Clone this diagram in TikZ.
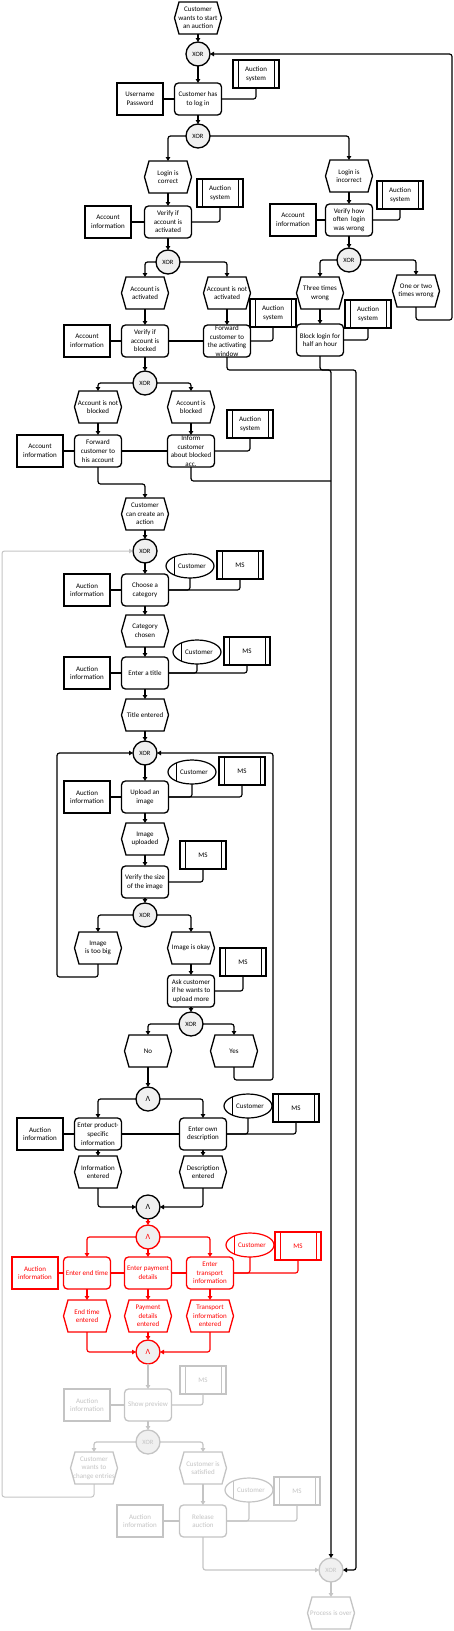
\documentclass[tikz,border=0pt]{standalone}
\usepackage{fontspec}
\setmainfont{Carlito}
\usetikzlibrary{arrows.meta,shapes.geometric}
\definecolor{rd}{HTML}{FF0000}
\definecolor{gr}{HTML}{C4C4C4}
\definecolor{xfill}{HTML}{F0F0F0}
\tikzset{
 base/.style={inner sep=0pt, outer sep=0pt, line width=1.3pt, fill=white},
 fnb/.style={base, rectangle, rounded corners=4pt, minimum width=47pt, minimum height=32pt},
 evb/.style={rectangle, inner sep=0pt, outer sep=0pt, minimum width=47pt, minimum height=32pt},
 dtb/.style={base, line width=1.1pt, rectangle, minimum width=46pt, minimum height=32pt},
 syb/.style={base, line width=1.1pt, rectangle, minimum width=46pt, minimum height=28pt},
 oub/.style={base, line width=1.2pt, ellipse, minimum width=48pt, minimum height=24pt},
 xob/.style={base, circle, minimum size=24pt, fill=xfill},
 txt/.style={inner sep=0pt, align=center, font=\fontsize{7}{8.6}\selectfont},
 ln/.style={line width=1.2pt, rounded corners=2.5pt},
 arr/.style={ln, -{Triangle[length=4pt,width=4.5pt]}},
}
\newcommand\myfn[4][black]{\node[fnb,draw=#1] (#2) at (#3) {};\node[txt,text=#1] at (#2.center) {#4};}
\newcommand\myev[4][black]{\node[evb] (#2) at (#3) {};
 \draw[line width=1.3pt,draw=#1,fill=white] (#2.west) -- ([xshift=4.5pt]#2.north west) -- ([xshift=-4.5pt]#2.north east) -- (#2.east) -- ([xshift=-4.5pt]#2.south east) -- ([xshift=4.5pt]#2.south west) -- cycle;
 \node[txt,text=#1] at (#2.center) {#4};}
\newcommand\mydt[4][black]{\node[dtb,draw=#1] (#2) at (#3) {};\node[txt,text=#1] at (#2.center) {#4};}
\newcommand\mysy[4][black]{\node[syb,draw=#1,path picture={\draw[draw=#1,line width=1pt] ([xshift=5pt]path picture bounding box.north west) -- ([xshift=5pt]path picture bounding box.south west) ([xshift=-5pt]path picture bounding box.north east) -- ([xshift=-5pt]path picture bounding box.south east);}] (#2) at (#3) {};\node[txt,text=#1] at (#2.center) {#4};}
\newcommand\myou[4][black]{\node[oub,draw=#1,path picture={\draw[draw=#1,line width=1pt] ([xshift=8pt]path picture bounding box.north west) -- ([xshift=8pt]path picture bounding box.south west);}] (#2) at (#3) {};\node[txt,text=#1] at ([xshift=2pt]#2.center) {#4};}
\newcommand\myxo[4][black]{\node[xob,draw=#1] (#2) at (#3) {};\node[txt,text=#1,font=\fontsize{6.5}{7}\selectfont] at (#2.center) {#4};}
\begin{document}
\begin{tikzpicture}[x=1pt,y=-1pt]
\useasboundingbox (0,0) rectangle (454,1631);
% ---------- black part
\myev{s1}{198,18}{Customer\\wants to start\\an auction}
\myxo{x1}{198,54}{XOR}
\myfn{f1}{198,99}{Customer has\\to log in}
\mydt{d1}{140,99}{Username\\Password}
\mysy{a1}{256,74}{Auction\\system}
\myxo{x2}{198,136}{XOR}
\myev{e1}{168,177}{Login is\\correct}
\myev{e2}{349,176}{Login is\\incorrect}
\myfn{f2}{168,222}{Verify if\\account is\\activated}
\mydt{d2}{108,222}{Account\\information}
\mysy{a2}{220,193}{Auction\\system}
\myfn{f3}{349,220}{Verify how\\often~ login\\was wrong}
\mydt{d3}{293,220}{Account\\information}
\mysy{a3}{400,195}{Auction\\system}
\myxo{x3}{168,262}{XOR}
\myxo{x4}{349,260}{XOR}
\myev{e3}{145,293}{Account is\\activated}
\myev{e4}{227,293}{Account is not\\activated}
\myev{e5}{320,293}{Three times\\wrong}
\myev{e6}{416,291}{One or two\\times wrong}
\myfn{f4}{145,341}{Verify if\\account is\\blocked}
\mydt{d4}{87,341}{Account\\information}
\myfn{f5}{227,341}{Forward\\customer to\\the activating\\window}
\mysy{a4}{273,313}{Auction\\system}
\myfn{f6}{320,340}{Block login for\\half an hour}
\mysy{a5}{368,314}{Auction\\system}
\myxo{x5}{145,383}{XOR}
\myev{e7}{98,407}{Account is not\\blocked}
\myev{e8}{191,407}{Account is\\blocked}
\myfn{f7}{98,451}{Forward\\customer to\\his account}
\myfn{f8}{191,451}{Inform\\customer\\about blocked\\acc.}
\mydt{d5}{40,451}{Account\\information}
\mysy{a6}{250,424}{Auction\\system}
\myev{e9}{145,514}{Customer\\can create an\\action}
\myxo{x6}{145,551}{XOR}
\myfn{f9}{145,590}{Choose a\\category}
\mydt{d6}{87,590}{Auction\\information}
\myou{o1}{190,566}{Customer}
\mysy{m1}{240,565}{MS}
\myev{e10}{145,631}{Category\\chosen}
\myfn{f10}{145,673}{Enter a title}
\mydt{d7}{87,673}{Auction\\information}
\myou{o2}{197,652}{Customer}
\mysy{m2}{247,651}{MS}
\myev{e11}{145,715}{Title entered}
\myxo{x7}{145,753}{XOR}
\myfn{f11}{145,797}{Upload an\\image}
\mydt{d8}{87,797}{Auction\\information}
\myou{o3}{192,772}{Customer}
\mysy{m3}{242,771}{MS}
\myev{e12}{145,839}{Image\\uploaded}
\mysy{m4}{203,855}{MS}
\myfn{f12}{145,882}{Verify the size\\of the image}
\myxo{x8}{145,915}{XOR}
\myev{e13}{98,948}{Image\\is too big}
\myev{e14}{191,948}{Image is okay}
\mysy{m5}{243,962}{MS}
\myfn{f13}{191,991}{Ask customer\\if he wants to\\upload more}
\myxo{x9}{191,1024}{XOR}
\myev{e15}{148,1051}{No}
\myev{e16}{234,1051}{Yes}
\myxo{x10}{148,1099}{\fontsize{8}{8}\selectfont Λ}
\myfn{f14}{98,1134}{Enter product-\\specific\\information}
\myfn{f15}{203,1134}{Enter own\\description}
\mydt{d9}{40,1134}{Auction\\information}
\myou{o4}{248,1106}{Customer}
\mysy{m6}{296,1108}{MS}
\myev{e17}{98,1172}{Information\\entered}
\myev{e18}{203,1172}{Description\\entered}
\myxo{x11}{148,1207}{\fontsize{8}{8}\selectfont Λ}
% ---------- red part
\myxo[rd]{x12}{148,1237}{\fontsize{8}{8}\selectfont Λ}
\myfn[rd]{f16}{87,1273}{Enter end time}
\myfn[rd]{f17}{148,1273}{Enter payment\\details}
\myfn[rd]{f18}{210,1273}{Enter\\transport\\information}
\mydt[rd]{d10}{35,1273}{Auction\\information}
\myou[rd]{o5}{250,1245}{Customer}
\mysy[rd]{m7}{298,1246}{MS}
\myev[rd]{e19}{87,1316}{End time\\entered}
\myev[rd]{e20}{148,1316}{Payment\\details\\entered}
\myev[rd]{e21}{210,1316}{Transport\\information\\entered}
\myxo[rd]{x13}{148,1352}{\fontsize{8}{8}\selectfont Λ}
% ---------- gray part
\myfn[gr]{f19}{148,1405}{Show preview}
\mydt[gr]{d11}{87,1405}{Auction\\information}
\mysy[gr]{m8}{203,1380}{MS}
\myxo[gr]{x14}{148,1442}{XOR}
\myev[gr]{e22}{94,1468}{Customer\\wants to\\change entries}
\myev[gr]{e23}{203,1468}{Customer is\\satisfied}
\myou[gr]{o6}{249,1490}{Customer}
\mysy[gr]{m9}{297,1491}{MS}
\myfn[gr]{f20}{203,1521}{Release\\auction}
\mydt[gr]{d12}{140,1521}{Auction\\information}
\myxo[gr]{x15}{331,1570}{XOR}
\myev[gr]{e24}{331,1613}{Process is over}
% ---------- coordinates
\coordinate (lp1) at (452,320);
\coordinate (lp2) at (452,54);
\coordinate (j1) at (331,370);
\coordinate (j2) at (356,370);
\coordinate (j3) at (331,481);
\coordinate (k1) at (57,977);
\coordinate (k2) at (273,1080);
\coordinate (g1) at (2,1497);
% ---------- black connectors
\draw[arr] (s1.south) -- (x1.north);
\draw[arr] (x1.south) -- (f1.north);
\draw[ln] (d1.east) -- (f1.west);
\draw[ln] (a1.south) |- (f1.east);
\draw[arr] (f1.south) -- (x2.north);
\draw[arr] (x2.west) -| (e1.north);
\draw[arr] (x2.east) -| (e2.north);
\draw[arr] (e1.south) -- (f2.north);
\draw[ln] (d2.east) -- (f2.west);
\draw[ln] (a2.south) |- (f2.east);
\draw[arr] (e2.south) -- (f3.north);
\draw[ln] (d3.east) -- (f3.west);
\draw[ln] (a3.south) |- (f3.east);
\draw[arr] (f2.south) -- (x3.north);
\draw[arr] (x3.west) -| (e3.north);
\draw[arr] (x3.east) -| (e4.north);
\draw[arr] (f3.south) -- (x4.north);
\draw[arr] (x4.west) -| (e5.north);
\draw[arr] (x4.east) -| (e6.north);
\draw[arr] (e3.south) -- (f4.north);
\draw[arr] (e4.south) -- (f5.north);
\draw[arr] (e5.south) -- (f6.north);
\draw[ln] (d4.east) -- (f4.west);
\draw[ln] (f4.east) -- (f5.west);
\draw[ln] (a4.south) |- (f5.east);
\draw[ln] (a5.south) |- (f6.east);
\draw[arr] (e6.south) |- (lp1) -- (lp2) -- (x1.east);
\draw[arr] (f4.south) -- (x5.north);
\draw[arr] (x5.west) -| (e7.north);
\draw[arr] (x5.east) -| (e8.north);
\draw[arr] (e7.south) -- (f7.north);
\draw[arr] (e8.south) -- (f8.north);
\draw[ln] (d5.east) -- (f7.west);
\draw[ln] (f7.east) -- (f8.west);
\draw[ln] (a6.south) |- (f8.east);
\draw[arr] (f7.south) -- ++(0,17) -| (e9.north);
\draw[arr] (f5.south) |- (j1) -- (x15.north);
\draw[arr] (f6.south) |- (j2) |- (x15.east);
\draw[ln] (f8.south) |- (j3);
\draw[arr] (e9.south) -- (x6.north);
\draw[arr] (x6.south) -- (f9.north);
\draw[ln] (d6.east) -- (f9.west);
\draw[ln] (o1.south) |- (f9.east);
\draw[ln] (m1.south) |- (f9.east);
\draw[arr] (f9.south) -- (e10.north);
\draw[arr] (e10.south) -- (f10.north);
\draw[ln] (d7.east) -- (f10.west);
\draw[ln] (o2.south) |- (f10.east);
\draw[ln] (m2.south) |- (f10.east);
\draw[arr] (f10.south) -- (e11.north);
\draw[arr] (e11.south) -- (x7.north);
\draw[arr] (x7.south) -- (f11.north);
\draw[ln] (d8.east) -- (f11.west);
\draw[ln] (o3.south) |- (f11.east);
\draw[ln] (m3.south) |- (f11.east);
\draw[arr] (f11.south) -- (e12.north);
\draw[arr] (e12.south) -- (f12.north);
\draw[ln] (m4.south) |- (f12.east);
\draw[arr] (f12.south) -- (x8.north);
\draw[arr] (x8.west) -| (e13.north);
\draw[arr] (x8.east) -| (e14.north);
\draw[arr] (e13.south) |- (k1) |- (x7.west);
\draw[arr] (e14.south) -- (f13.north);
\draw[ln] (m5.south) |- (f13.east);
\draw[arr] (f13.south) -- (x9.north);
\draw[arr] (x9.west) -| (e15.north);
\draw[arr] (x9.east) -| (e16.north);
\draw[arr] (e16.south) |- (k2) |- (x7.east);
\draw[arr] (e15.south) -- (x10.north);
\draw[arr] (x10.west) -| (f14.north);
\draw[arr] (x10.east) -| (f15.north);
\draw[ln] (d9.east) -- (f14.west);
\draw[ln] (f14.east) -- (f15.west);
\draw[ln] (o4.south) |- (f15.east);
\draw[ln] (m6.south) |- (f15.east);
\draw[arr] (f14.south) -- (e17.north);
\draw[arr] (f15.south) -- (e18.north);
\draw[arr] (e17.south) |- (x11.west);
\draw[arr] (e18.south) |- (x11.east);
% ---------- red connectors
\draw[arr,rd] (x11.south) -- (x12.north);
\draw[arr,rd] (x12.west) -| (f16.north);
\draw[arr,rd] (x12.south) -- (f17.north);
\draw[arr,rd] (x12.east) -| (f18.north);
\draw[ln,rd] (d10.east) -- (f16.west);
\draw[ln,rd] (f16.east) -- (f17.west);
\draw[ln,rd] (f17.east) -- (f18.west);
\draw[ln,rd] (o5.south) |- (f18.east);
\draw[ln,rd] (m7.south) |- (f18.east);
\draw[arr,rd] (f16.south) -- (e19.north);
\draw[arr,rd] (f17.south) -- (e20.north);
\draw[arr,rd] (f18.south) -- (e21.north);
\draw[arr,rd] (e19.south) |- (x13.west);
\draw[arr,rd] (e20.south) -- (x13.north);
\draw[arr,rd] (e21.south) |- (x13.east);
% ---------- gray connectors
\draw[arr,gr] (x13.south) -- (f19.north);
\draw[ln,gr] (d11.east) -- (f19.west);
\draw[ln,gr] (m8.south) |- (f19.east);
\draw[arr,gr] (f19.south) -- (x14.north);
\draw[arr,gr] (x14.west) -| (e22.north);
\draw[arr,gr] (x14.east) -| (e23.north);
\draw[arr,gr] (e23.south) -- (f20.north);
\draw[ln,gr] (d12.east) -- (f20.west);
\draw[ln,gr] (o6.south) |- (f20.east);
\draw[ln,gr] (m9.south) |- (f20.east);
\draw[arr,gr] (f20.south) |- (x15.west);
\draw[arr,gr] (x15.south) -- (e24.north);
\draw[arr,gr,line width=1pt] (e22.south) |- (g1) |- (x6.west);
\end{tikzpicture}
\end{document}
